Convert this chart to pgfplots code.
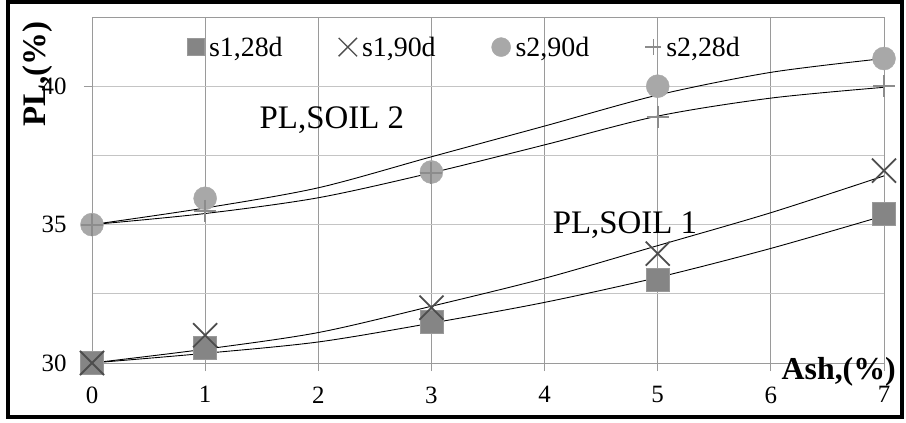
\documentclass[border=0pt]{standalone}
\usepackage{fontspec}
\setmainfont{Liberation Serif}
\usepackage{pgfplots}
\pgfplotsset{compat=1.18}
\definecolor{vgrid}{HTML}{9A9A9A}
\definecolor{hgrid}{HTML}{C4C4C4}
\definecolor{sqfill}{HTML}{858585}
\definecolor{sqdraw}{HTML}{999999}
\definecolor{xcol}{HTML}{4D4D4D}
\definecolor{cifill}{HTML}{A8A8A8}
\definecolor{pcol}{HTML}{8C8C8C}
\newcommand{\tl}[1]{{\fontsize{25}{27}\selectfont #1}}
\begin{document}
\begin{tikzpicture}
\useasboundingbox (-92bp,-60bp) rectangle (814bp,363bp);
\fill[white] (-92bp,-60bp) rectangle (814bp,363bp);
\begin{axis}[
  at={(0,0)}, anchor=south west,
  scale only axis, width=792bp, height=346bp,
  xmin=0, xmax=7, ymin=30, ymax=42.5,
  xtick={0,1,2,3,4,5,6,7}, ytick={30,35,40}, minor ytick={32.5,37.5,42.5},
  xticklabels={\tl{0},\tl{1},\tl{2},\tl{3},\tl{4},\tl{5},\tl{6},\tl{7}},
  yticklabels={\tl{30},\tl{35},\tl{40}},
  xmajorgrids, ymajorgrids, yminorgrids,
  x grid style={vgrid, line width=0.9bp},
  y grid style={hgrid, line width=0.9bp},
  minor y grid style={hgrid, line width=0.9bp},
  axis line style={vgrid, line width=0.9bp},
  tick align=outside, xtick pos=bottom, ytick pos=left,
  major tick length=8bp, minor tick length=0pt,
  tick style={vgrid, line width=0.9bp},
  xticklabel style={yshift=-12bp},
  yticklabel style={xshift=-14bp},
  clip=false,
  legend columns=4,
  legend style={draw=none, fill=none, at={(0.116,0.913)}, anchor=west,
    font=\fontsize{28}{30}\selectfont,
    /tikz/every odd column/.append style={column sep=3bp},
    /tikz/every even column/.append style={column sep=54bp}},
]
\addlegendimage{only marks, mark=square*, mark size=8.5bp, mark options={fill=sqfill, draw=sqdraw, line width=0.5bp}}
\addlegendentry{s1,28d}
\addlegendimage{only marks, mark=x, mark size=13bp, mark options={draw=xcol, line width=1.4bp}}
\addlegendentry{s1,90d}
\addlegendimage{only marks, mark=*, mark size=9.5bp, mark options={fill=cifill, draw=cifill}}
\addlegendentry{s2,90d}
\addlegendimage{only marks, mark=+, mark size=8bp, mark options={draw=pcol, line width=1.5bp}}
\addlegendentry{s2,28d}

% s2,90d circles
\addplot[only marks, mark=*, mark size=11.5bp, mark options={fill=cifill, draw=cifill}, forget plot]
  coordinates {(0,35) (1,35.95) (3,36.9) (5,40) (7,41)};
% s2,28d plus
\addplot[only marks, mark=+, mark size=11bp, mark options={draw=pcol, line width=2bp}, forget plot]
  coordinates {(0,35) (1,35.5) (3,36.85) (5,38.9) (7,40)};
% s1,28d squares
\addplot[only marks, mark=square*, mark size=11.5bp, mark options={fill=sqfill, draw=sqdraw, line width=0.5bp}, forget plot]
  coordinates {(0,30) (1,30.55) (3,31.5) (5,33) (7,35.4)};
% s1,90d crosses
\addplot[only marks, mark=x, mark size=17bp, mark options={draw=xcol, line width=1.8bp}, forget plot]
  coordinates {(0,30) (1,31) (3,32) (5,33.95) (7,36.95)};

% trend lines
\addplot[black, line width=0.9bp, smooth, tension=0.5, forget plot]
  coordinates {(0,35) (1,35.6) (2,36.33) (3,37.45) (4,38.56) (5,39.68) (6,40.5) (7,41.0)};
\addplot[black, line width=0.9bp, smooth, tension=0.5, forget plot]
  coordinates {(0,35) (1,35.4) (2,35.97) (3,36.87) (4,37.88) (5,38.92) (6,39.57) (7,39.96)};
\addplot[black, line width=0.9bp, smooth, tension=0.5, forget plot]
  coordinates {(0,30) (1,30.5) (2,31.1) (3,32.05) (4,33.06) (5,34.24) (6,35.43) (7,36.76)};
\addplot[black, line width=0.9bp, smooth, tension=0.5, forget plot]
  coordinates {(0,30) (1,30.35) (2,30.76) (3,31.44) (4,32.19) (5,33.09) (6,34.14) (7,35.32)};

\node[font=\fontsize{33}{35}\selectfont] at (axis cs:2.12,38.78) {PL,SOIL 2};
\node[font=\fontsize{33}{35}\selectfont] at (axis cs:4.71,34.99) {PL,SOIL 1};
\node[font=\bfseries\fontsize{32}{34}\selectfont] at (axis cs:6.6,29.68) {Ash,(\%)};
\node[font=\bfseries\fontsize{33}{35}\selectfont, rotate=90] at (axis description cs:-0.069,0.835) {PL,(\%)};
\end{axis}
\draw[black, line width=4bp] (-84bp,-54bp) rectangle (810bp,361bp);
\end{tikzpicture}
\end{document}
